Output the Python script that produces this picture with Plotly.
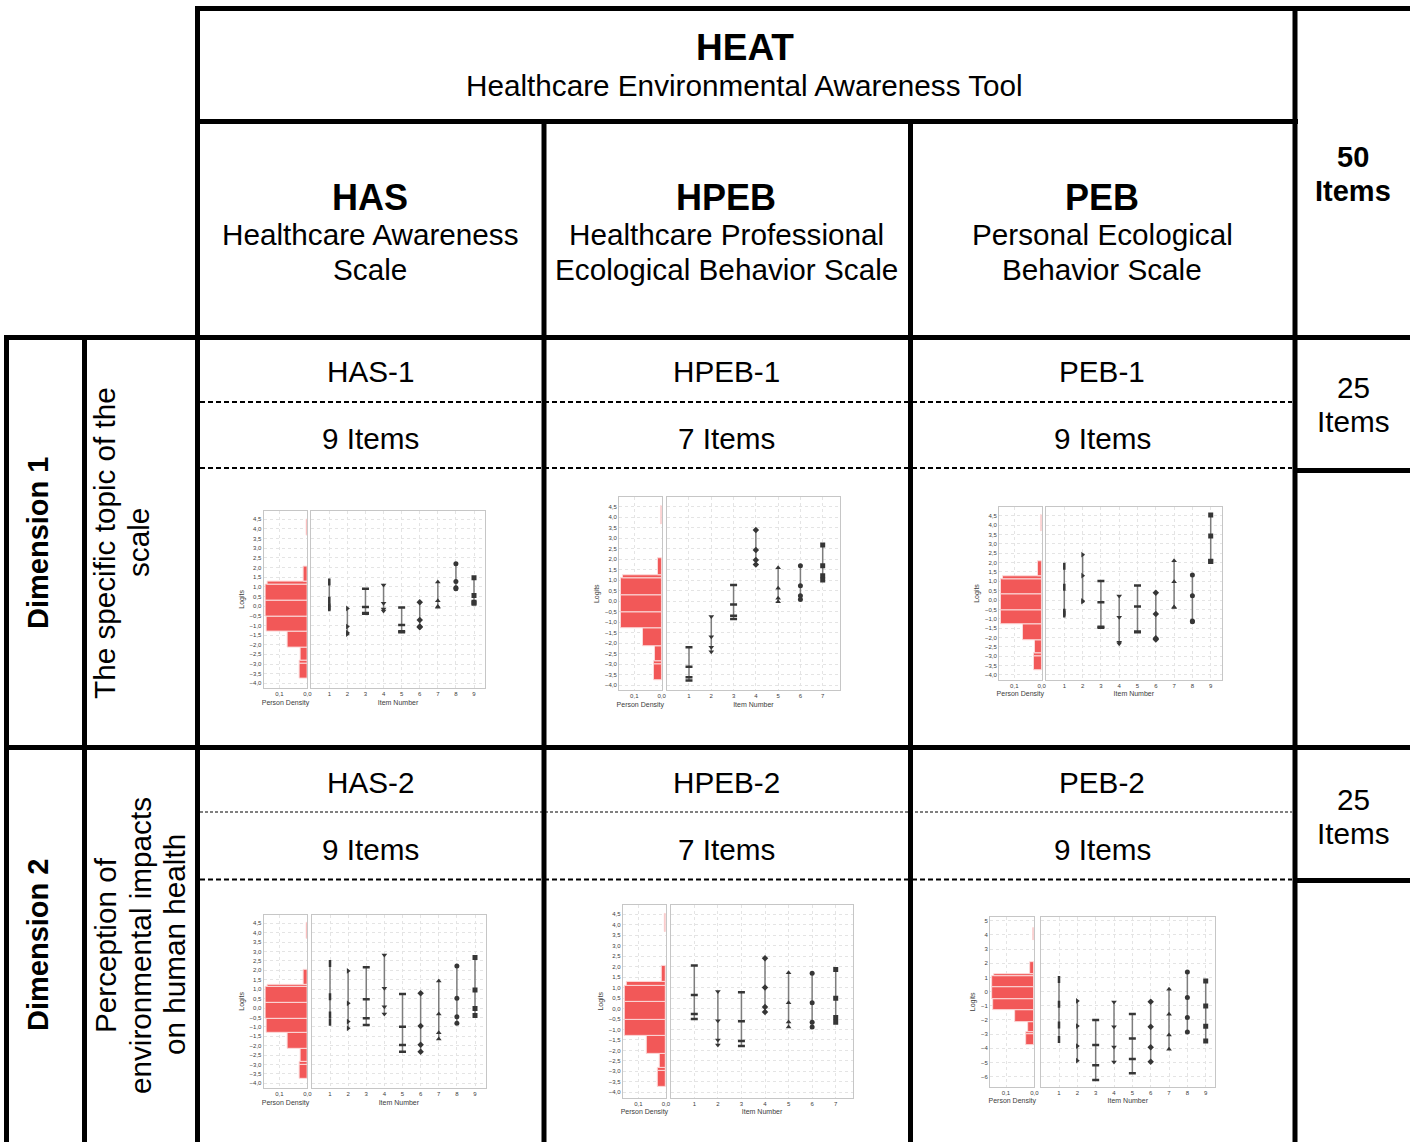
import plotly.graph_objects as go

W, H = 1410, 1142
XSPAN = 1405.0  # horizontal span the page is displayed at

# ---------------- data ----------------
# Person density histogram (same sample in every Wright map)
bin_lower = [-3.75, -3.0, -2.85, -2.15, -1.3, -0.55, 0.3, 1.1, 1.25, 3.65]
bin_upper = [-3.0, -2.85, -2.15, -1.3, -0.55, 0.3, 1.1, 1.25, 2.05, 4.5]
person_density = [0.028, 0.028, 0.023, 0.069, 0.147, 0.149, 0.148, 0.141, 0.014, 0.003]

# Item thresholds (logits), one list per item
has1_thresholds = [
    [1.25, 0.30, -0.03, -0.08],
    [-0.12, -1.06, -1.38, -1.45],
    [0.90, -0.05, -0.35, -0.40],
    [1.10, 0.15, -0.15, -0.25],
    [-0.07, -0.98, -1.30, -1.35],
    [0.20, -0.72, -1.05, -1.10],
    [1.25, 0.28, -0.02, -0.06],
    [2.20, 1.27, 0.95, 0.90],
    [1.47, 0.55, 0.20, 0.15],
]
hpeb1_thresholds = [
    [-2.20, -3.13, -3.63, -3.79],
    [-0.74, -1.70, -2.20, -2.41],
    [0.77, -0.16, -0.70, -0.85],
    [3.39, 2.43, 1.96, 1.75],
    [1.59, 0.61, 0.13, -0.03],
    [1.69, 0.73, 0.26, 0.08],
    [2.67, 1.69, 1.21, 1.00],
]
peb1_thresholds = [
    [1.80, 0.68, -0.65, -0.75],
    [2.42, 1.30, -0.05, -0.09],
    [1.02, -0.12, -1.42, -1.48],
    [0.22, -0.92, -2.25, -2.33],
    [0.78, -0.35, -1.68, -1.72],
    [0.39, -0.75, -2.04, -2.10],
    [2.10, 0.98, -0.37, -0.40],
    [1.33, 0.23, -1.12, -1.16],
    [4.54, 3.42, 2.07, 2.05],
]
has2_thresholds = [
    [2.37, 0.60, -0.37, -0.76],
    [1.97, 0.25, -0.72, -1.08],
    [2.16, 0.46, -0.55, -0.90],
    [2.82, 1.05, 0.07, -0.32],
    [0.75, -0.99, -1.96, -2.32],
    [0.78, -0.95, -1.95, -2.32],
    [1.44, -0.32, -1.31, -1.65],
    [2.23, 0.52, -0.46, -0.81],
    [2.68, 0.96, -0.03, -0.40],
]
hpeb2_thresholds = [
    [2.05, 0.65, -0.26, -0.50],
    [0.81, -0.58, -1.50, -1.74],
    [0.78, -0.61, -1.55, -1.79],
    [2.40, 1.01, 0.07, -0.16],
    [1.71, 0.28, -0.64, -0.88],
    [1.68, 0.28, -0.66, -0.88],
    [1.87, 0.49, -0.43, -0.66],
]
peb2_thresholds = [
    [0.86, -0.90, -2.36, -3.37],
    [-0.66, -2.43, -3.84, -4.87],
    [-2.00, -3.77, -5.20, -6.23],
    [-0.73, -2.47, -3.91, -4.96],
    [-1.58, -3.30, -4.75, -5.76],
    [-0.71, -2.47, -3.93, -4.94],
    [0.16, -1.60, -3.06, -4.07],
    [1.38, -0.41, -1.82, -2.85],
    [0.75, -1.02, -2.45, -3.48],
]

logit_ticks_a = [-4.0, -3.5, -3.0, -2.5, -2.0, -1.5, -1.0, -0.5, 0.0, 0.5,
                 1.0, 1.5, 2.0, 2.5, 3.0, 3.5, 4.0, 4.5]
logit_ticks_b = [-6, -5, -4, -3, -2, -1, 0, 1, 2, 3, 4, 5]
density_ticks = [0.1, 0.0]

# ---------------- layout geometry (pixels) ----------------
maps = [
    (has1_thresholds, [-4.25, 4.95], logit_ticks_a, ".1f", 4.5, 519.3, -4.0, 683.3, 307.3, 279.3, 329.3, 474.0, 9.6),
    (hpeb1_thresholds, [-4.25, 4.95], logit_ticks_a, ".1f", 4.5, 506.7, -4.0, 685.0, 661.7, 634.3, 689.0, 822.7, 7.78),
    (peb1_thresholds, [-4.25, 4.95], logit_ticks_a, ".1f", 4.5, 515.7, -4.0, 675.0, 1041.7, 1014.3, 1064.3, 1210.7, 9.6),
    (has2_thresholds, [-4.25, 4.95], logit_ticks_a, ".1f", 4.5, 923.3, -4.0, 1083.3, 307.3, 279.3, 330.0, 475.0, 9.6),
    (hpeb2_thresholds, [-4.25, 4.95], logit_ticks_a, ".1f", 4.5, 914.3, -4.0, 1092.3, 666.0, 638.3, 694.3, 835.7, 7.75),
    (peb2_thresholds, [-6.7, 5.25], logit_ticks_b, ".0f", 5, 920.7, -6, 1076.7, 1034.3, 1006.0, 1059.0, 1205.7, 9.5),
]
DENS_MAX = 0.156

# JFreeChart default shape sequence
shape_seq = [
    ("square", 5, 0), ("circle", 5, 0), ("triangle-up", 5, 0), ("diamond", 5, 0),
    ("line-ew-open", 5, 2.5), ("triangle-down", 5, 0), ("line-ew-open", 5, 2.5),
    ("triangle-right", 5, 0), ("line-ns-open", 5, 2.5), ("triangle-left", 5, 0),
]

FONT = "Liberation Sans, Arial, sans-serif"
MARK = "#363636"
GRID = "#e4e4e4"
FRAME = "#c6c6c6"
TICKC = "#3c3c3c"
BODY = 29.7


def px(x):
    return x / XSPAN


def py(y):
    return 1 - y / H


def clamp(v):
    return max(0.0, min(1.0, v))


fig = go.Figure()
lay = {}
k = 0
for (thr, yr, yt, yfmt, va, pa, vb, pb, d0, d1, i1, iN, xmax) in maps:
    n = len(thr)
    k += 1
    iL = k
    k += 1
    iR = k
    sy = (pb - pa) / (vb - va)
    ytop = pa + (yr[1] - va) * sy
    ybot = pa + (yr[0] - va) * sy
    ydom = [clamp(py(ybot)), clamp(py(ytop))]
    sd = (d1 - d0) / 0.1
    xl_left = d0 + DENS_MAX * sd
    xl_right = d0
    si = (iN - i1) / (n - 1)
    xr_left = i1 + (0 - 1) * si
    xr_right = i1 + (xmax - 1) * si

    nameL = "" if iL == 1 else str(iL)
    nameR = str(iR)

    common = dict(showgrid=True, griddash="dot", gridcolor=GRID, gridwidth=1,
                  showline=True, mirror=True, linecolor=FRAME, linewidth=1,
                  zeroline=False, ticks="", tickfont=dict(size=6, color=TICKC, family=FONT))
    tfont = dict(size=7, color=TICKC, family=FONT)

    lay["xaxis" + nameL] = dict(common, domain=[px(xl_left), px(xl_right)], range=[DENS_MAX, 0],
                                anchor="y" + nameL, tickvals=density_ticks, tickformat=".1f",
                                title=dict(text="Person Density", font=tfont, standoff=3))
    lay["yaxis" + nameL] = dict(common, domain=ydom, range=yr, anchor="x" + nameL,
                                tickvals=yt, tickformat=yfmt,
                                title=dict(text="Logits", font=tfont, standoff=4))
    lay["xaxis" + nameR] = dict(common, domain=[px(xr_left), px(xr_right)], range=[0, xmax],
                                anchor="y" + nameR, tickvals=list(range(1, n + 1)),
                                title=dict(text="Item Number", font=tfont, standoff=3))
    lay["yaxis" + nameR] = dict(common, domain=ydom, range=yr, anchor="x" + nameR,
                                tickvals=yt, showticklabels=False)

    fig.add_trace(go.Bar(
        x=person_density,
        y=[(lo + hi) / 2 for lo, hi in zip(bin_lower, bin_upper)],
        width=[hi - lo for lo, hi in zip(bin_lower, bin_upper)],
        orientation="h",
        marker=dict(color="#f25858", line=dict(color="#fbdada", width=1)),
        xaxis="x" + nameL, yaxis="y" + nameL, showlegend=False, hoverinfo="skip",
    ))
    for i, vals in enumerate(thr):
        sym, size, lw = shape_seq[n - 1 - i]
        fig.add_trace(go.Scatter(
            x=[i + 1] * len(vals), y=vals, mode="lines+markers",
            line=dict(color="#7d7d7d", width=1.5),
            marker=dict(symbol=sym, size=size, color=MARK,
                        line=dict(color=MARK, width=lw)),
            xaxis="x" + nameR, yaxis="y" + nameR, showlegend=False, hoverinfo="skip",
        ))

# ---------------- table lines ----------------
shapes = []


def hline(x0, x1, y, width=5, dash="solid"):
    shapes.append(dict(type="line", xref="paper", yref="paper", x0=px(x0), x1=px(x1),
                       y0=py(y), y1=py(y), line=dict(color="black", width=width, dash=dash)))


def vline(x, y0, y1, width=5):
    shapes.append(dict(type="line", xref="paper", yref="paper", x0=px(x), x1=px(x),
                       y0=py(y0), y1=py(y1), line=dict(color="black", width=width)))


hline(195, 1415, 8.5)
vline(197.5, 6, 1142)
hline(195, 1298, 121.5)
vline(1295, 6, 1142)
vline(544, 119, 1142)
vline(910.5, 119, 1142)
hline(4, 1415, 337.5)
vline(6.5, 335, 1142)
vline(84.5, 335, 1142)
hline(4, 1415, 747.5)
hline(1295, 1415, 470.5)
hline(1295, 1415, 880.5)
hline(200, 1292, 402, 2, "5px,3px")
hline(200, 1292, 468, 2, "5px,3px")
hline(200, 1292, 879.5, 2, "5px,3px")
hline(200, 1292, 812, 1, "3px,2px")

# ---------------- table text ----------------
anns = []


def txt(s, cx, cy, size=BODY, bold=False, angle=0):
    anns.append(dict(text=("<b>%s</b>" % s) if bold else s, x=px(cx), y=py(cy),
                     xref="paper", yref="paper", xanchor="center", yanchor="middle",
                     showarrow=False, textangle=angle,
                     font=dict(family=FONT, size=size, color="black")))


txt("HEAT", 745, 47, 37, True)
txt("Healthcare Environmental Awareness Tool", 745, 86)
txt("HAS", 370, 197, 36, True)
txt("Healthcare Awareness", 370, 235)
txt("Scale", 370, 269)
txt("HPEB", 726, 197, 36, True)
txt("Healthcare Professional", 726, 235)
txt("Ecological Behavior Scale", 726, 269)
txt("PEB", 1102, 197, 36, True)
txt("Personal Ecological", 1102, 235)
txt("Behavior Scale", 1102, 269)
txt("50", 1353, 157, 29, True)
txt("Items", 1353, 191, 29, True)

for cx, lab, items in [(370, "HAS", 9), (726, "HPEB", 7), (1102, "PEB", 9)]:
    txt(lab + "-1", cx, 371)
    txt("%d Items" % items, cx, 438)
    txt(lab + "-2", cx, 782)
    txt("%d Items" % items, cx, 849)

txt("25", 1353, 388)
txt("Items", 1353, 422)
txt("25", 1353, 799)
txt("Items", 1353, 833)

txt("Dimension 1", 38, 543, 29, True, -90)
txt("The specific topic of the", 104, 543, BODY, False, -90)
txt("scale", 138, 543, BODY, False, -90)
txt("Dimension 2", 38, 945, 29, True, -90)
txt("Perception of", 105, 945, BODY, False, -90)
txt("environmental impacts", 140, 946, BODY, False, -90)
txt("on human health", 174, 945, BODY, False, -90)

fig.update_layout(
    width=W, height=H, margin=dict(l=0, r=0, t=0, b=0),
    paper_bgcolor="white", plot_bgcolor="white",
    separators=",.", showlegend=False, bargap=0,
    shapes=shapes, annotations=anns, font=dict(family=FONT),
    **lay,
)

fig.write_html("out.html",
               config={"displayModeBar": False, "responsive": False},
               post_script="document.body.style.margin='0';document.documentElement.style.overflow='hidden';document.body.style.overflow='hidden';")
